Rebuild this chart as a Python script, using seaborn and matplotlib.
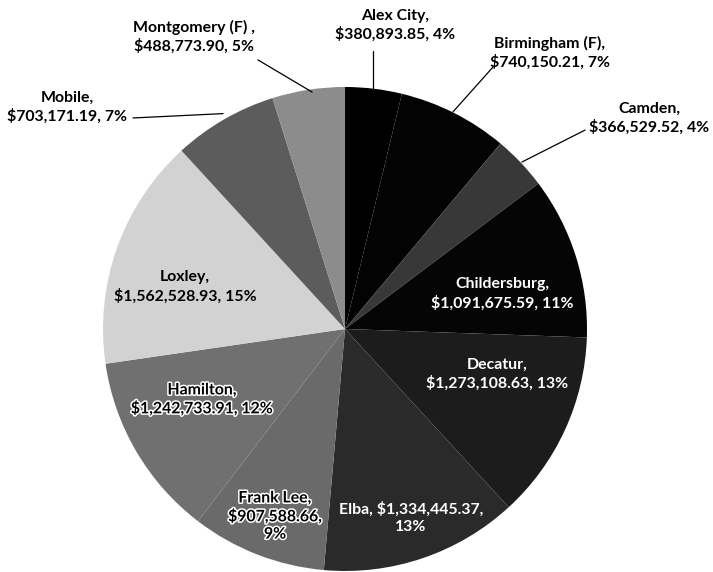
import matplotlib
matplotlib.use("Agg")
import matplotlib.pyplot as plt
import matplotlib.patheffects as pe
import seaborn as sns

# campus totals, clockwise from 12 o'clock
campuses = ["Alex City", "Birmingham (F)", "Camden", "Childersburg", "Decatur",
            "Elba", "Frank Lee", "Hamilton", "Loxley", "Mobile", "Montgomery (F)"]
amounts = [380893.85, 740150.21, 366529.52, 1091675.59, 1273108.63,
           1334445.37, 907588.66, 1242733.91, 1562528.93, 703171.19, 488773.90]
percents = [4, 7, 4, 11, 13, 13, 9, 12, 15, 7, 5]

grays = ["#000000", "#030303", "#383838", "#050505", "#1c1c1c",
         "#2a2a2a", "#6a6a6a", "#707070", "#d2d2d2", "#5c5c5c", "#8c8c8c"]

sns.set_theme(style="white")
plt.rcParams["font.family"] = ["Lato", "DejaVu Sans"]

fig = plt.figure(figsize=(7.13, 5.72), dpi=100)
ax = fig.add_axes([0.1445, 0.00175, 0.6788, 0.8462])
wedges, _ = ax.pie(amounts, colors=grays, startangle=90, counterclock=False,
                   wedgeprops=dict(linewidth=0))
ax.set_xlim(-1, 1)
ax.set_ylim(-1, 1)
ax.axis("off")

FS = 11.4


def label_text(i, sep=",\n"):
    return f"{campuses[i]}{sep}${amounts[i]:,.2f}, {percents[i]}%"


# label layout: (text x, text y, colour)
inside = {
    3: (0.649, 0.145, "white"),
    4: (0.628, -0.186, "white"),
    8: (-0.661, 0.174, "black"),
}
for i, (x, y, c) in inside.items():
    ax.text(x, y, label_text(i), ha="center", va="center", color=c,
            fontsize=FS, fontweight="bold", linespacing=1.3)

# Elba and Frank Lee wrap differently
ax.text(0.273, -0.781, f"Elba, ${amounts[5]:,.2f},\n{percents[5]}%",
        ha="center", va="center", color="white", fontsize=FS,
        fontweight="bold", linespacing=1.3)
halo = [pe.withStroke(linewidth=2.2, foreground="white")]
ax.text(-0.289, -0.775, f"{campuses[6]},\n${amounts[6]:,.2f},\n{percents[6]}%",
        ha="center", va="center", color="black", fontsize=FS,
        fontweight="bold", linespacing=1.3, path_effects=halo)
ax.text(-0.591, -0.293, label_text(7), ha="center", va="center", color="black",
        fontsize=FS, fontweight="bold", linespacing=1.3, path_effects=halo)

# outside labels with leader lines: text pos, line start, line end
outside = {
    0: ((0.207, 1.256), (0.116, 1.149), (0.116, 0.996)),
    1: ((0.847, 1.140), (0.612, 1.083), (0.446, 0.897)),
    2: ((1.256, 0.872), (0.992, 0.822), (0.731, 0.690)),
    9: ((-1.149, 0.917), (-0.876, 0.872), (-0.504, 0.890)),
    10: ((-0.624, 1.207), (-0.360, 1.112), (-0.136, 0.979)),
}
for i, (tpos, l0, l1) in outside.items():
    txt = label_text(i)
    if i == 10:
        txt = f"{campuses[i]} ,\n${amounts[i]:,.2f}, {percents[i]}%"
    ax.text(tpos[0], tpos[1], txt, ha="center", va="center", color="black",
            fontsize=FS, fontweight="bold", linespacing=1.3, clip_on=False)
    ax.plot([l0[0], l1[0]], [l0[1], l1[1]], color="black", lw=0.9,
            clip_on=False)

fig.savefig("out.png", dpi=100)
